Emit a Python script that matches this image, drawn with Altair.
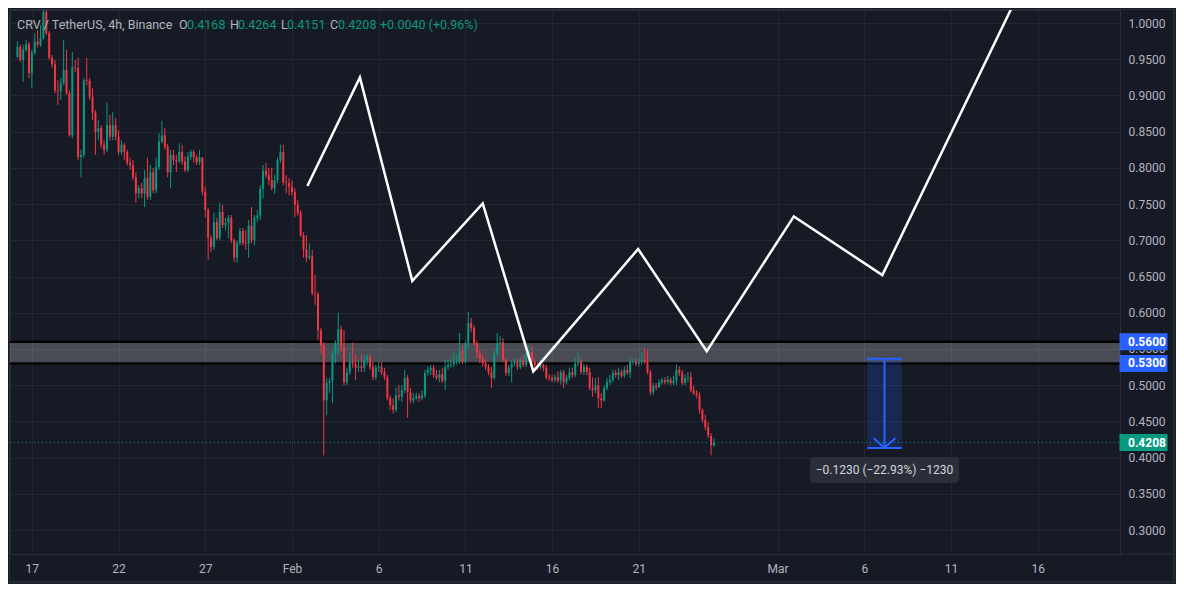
import altair as alt
import pandas as pd

# ---------------- data ----------------
first_open = 0.953
candle_start = "2025-01-16 04:00"   # 4h candles

closes = [
    0.967, 0.949, 0.963, 0.971, 0.931, 0.959, 0.974, 0.970, 0.979, 1.015,
    0.986, 0.952, 0.943, 0.907, 0.906, 0.917, 0.935, 0.903, 0.845, 0.939,
    0.938, 0.815, 0.818, 0.921, 0.920, 0.898, 0.876, 0.850, 0.855, 0.832,
    0.825, 0.859, 0.843, 0.859, 0.843, 0.822, 0.832, 0.822, 0.807, 0.804,
    0.787, 0.765, 0.772, 0.765, 0.786, 0.760, 0.794, 0.769, 0.801, 0.836,
    0.845, 0.829, 0.794, 0.818, 0.811, 0.809, 0.822, 0.809, 0.797, 0.815,
    0.822, 0.815, 0.808, 0.814, 0.767, 0.742, 0.703, 0.691, 0.725, 0.703,
    0.739, 0.721, 0.724, 0.731, 0.700, 0.676, 0.696, 0.713, 0.696, 0.695,
    0.720, 0.700, 0.731, 0.734, 0.771, 0.796, 0.790, 0.783, 0.772, 0.783,
    0.811, 0.822, 0.780, 0.779, 0.774, 0.767, 0.749, 0.738, 0.707, 0.687,
    0.676, 0.678, 0.627, 0.626, 0.576, 0.555, 0.479, 0.503, 0.506, 0.544,
    0.558, 0.577, 0.553, 0.504, 0.518, 0.532, 0.530, 0.524, 0.526, 0.524,
    0.535, 0.539, 0.525, 0.511, 0.524, 0.525, 0.518, 0.511, 0.482, 0.472,
    0.466, 0.486, 0.484, 0.493, 0.510, 0.490, 0.479, 0.482, 0.485, 0.482,
    0.486, 0.517, 0.521, 0.524, 0.514, 0.510, 0.515, 0.506, 0.525, 0.528,
    0.529, 0.532, 0.533, 0.548, 0.532, 0.558, 0.586, 0.579, 0.558, 0.544,
    0.537, 0.530, 0.525, 0.518, 0.510, 0.544, 0.558, 0.559, 0.535, 0.517,
    0.524, 0.530, 0.532, 0.525, 0.535, 0.528, 0.544, 0.546, 0.532, 0.528,
    0.525, 0.528, 0.524, 0.511, 0.510, 0.507, 0.511, 0.506, 0.518, 0.504,
    0.510, 0.518, 0.514, 0.530, 0.532, 0.518, 0.525, 0.518, 0.496, 0.493,
    0.500, 0.482, 0.479, 0.496, 0.504, 0.507, 0.517, 0.514, 0.518, 0.513,
    0.521, 0.517, 0.532, 0.533, 0.529, 0.532, 0.535, 0.533, 0.518, 0.490,
    0.499, 0.497, 0.504, 0.507, 0.504, 0.508, 0.503, 0.506, 0.521, 0.517,
    0.503, 0.510, 0.511, 0.493, 0.489, 0.486, 0.466, 0.452, 0.442, 0.430,
    0.4168, 0.4208,
]
highs = [
    0.975, 0.970, 0.970, 0.977, 0.974, 0.963, 0.986, 0.990, 0.997, 1.021,
    1.018, 0.989, 0.956, 0.949, 0.921, 0.924, 0.977, 0.963, 0.907, 0.960,
    0.949, 0.952, 0.825, 0.924, 0.952, 0.924, 0.910, 0.880, 0.866, 0.859,
    0.838, 0.890, 0.873, 0.877, 0.869, 0.852, 0.838, 0.834, 0.825, 0.814,
    0.811, 0.794, 0.776, 0.779, 0.797, 0.814, 0.804, 0.800, 0.814, 0.848,
    0.865, 0.855, 0.833, 0.825, 0.825, 0.818, 0.834, 0.832, 0.816, 0.822,
    0.825, 0.825, 0.818, 0.825, 0.815, 0.774, 0.745, 0.707, 0.738, 0.731,
    0.752, 0.749, 0.731, 0.735, 0.735, 0.703, 0.700, 0.717, 0.717, 0.714,
    0.728, 0.746, 0.735, 0.742, 0.776, 0.804, 0.807, 0.800, 0.800, 0.790,
    0.814, 0.832, 0.832, 0.790, 0.786, 0.783, 0.772, 0.756, 0.742, 0.711,
    0.707, 0.696, 0.687, 0.652, 0.629, 0.579, 0.559, 0.510, 0.510, 0.548,
    0.562, 0.600, 0.582, 0.576, 0.524, 0.544, 0.559, 0.542, 0.535, 0.542,
    0.542, 0.542, 0.543, 0.532, 0.528, 0.532, 0.532, 0.524, 0.514, 0.486,
    0.482, 0.497, 0.500, 0.500, 0.521, 0.514, 0.496, 0.489, 0.490, 0.489,
    0.493, 0.521, 0.526, 0.528, 0.528, 0.521, 0.521, 0.524, 0.535, 0.535,
    0.537, 0.546, 0.542, 0.572, 0.555, 0.562, 0.601, 0.593, 0.583, 0.562,
    0.548, 0.542, 0.535, 0.529, 0.525, 0.548, 0.572, 0.568, 0.565, 0.537,
    0.528, 0.535, 0.537, 0.537, 0.539, 0.542, 0.548, 0.555, 0.555, 0.537,
    0.532, 0.535, 0.530, 0.528, 0.515, 0.514, 0.515, 0.519, 0.521, 0.521,
    0.514, 0.524, 0.524, 0.537, 0.546, 0.537, 0.530, 0.529, 0.524, 0.511,
    0.510, 0.511, 0.489, 0.500, 0.510, 0.514, 0.521, 0.521, 0.524, 0.522,
    0.526, 0.528, 0.537, 0.537, 0.537, 0.537, 0.546, 0.551, 0.548, 0.521,
    0.503, 0.503, 0.508, 0.510, 0.511, 0.513, 0.511, 0.513, 0.529, 0.526,
    0.521, 0.515, 0.518, 0.518, 0.499, 0.493, 0.490, 0.468, 0.459, 0.449,
    0.434, 0.4264,
]
lows = [
    0.952, 0.946, 0.919, 0.960, 0.924, 0.910, 0.956, 0.966, 0.967, 0.977,
    0.983, 0.949, 0.938, 0.903, 0.887, 0.894, 0.914, 0.901, 0.843, 0.841,
    0.932, 0.811, 0.787, 0.814, 0.914, 0.894, 0.866, 0.818, 0.838, 0.827,
    0.818, 0.822, 0.838, 0.838, 0.838, 0.818, 0.818, 0.811, 0.803, 0.797,
    0.783, 0.752, 0.758, 0.758, 0.746, 0.756, 0.756, 0.765, 0.765, 0.797,
    0.834, 0.825, 0.787, 0.772, 0.804, 0.794, 0.807, 0.804, 0.794, 0.794,
    0.811, 0.807, 0.804, 0.804, 0.762, 0.732, 0.673, 0.684, 0.687, 0.700,
    0.700, 0.717, 0.714, 0.703, 0.696, 0.670, 0.669, 0.693, 0.693, 0.687,
    0.676, 0.696, 0.693, 0.725, 0.728, 0.758, 0.786, 0.776, 0.769, 0.764,
    0.779, 0.807, 0.776, 0.765, 0.762, 0.762, 0.732, 0.734, 0.705, 0.676,
    0.670, 0.673, 0.624, 0.611, 0.562, 0.544, 0.403, 0.459, 0.489, 0.475,
    0.530, 0.542, 0.546, 0.500, 0.500, 0.514, 0.524, 0.507, 0.518, 0.518,
    0.518, 0.528, 0.521, 0.507, 0.507, 0.518, 0.514, 0.507, 0.479, 0.466,
    0.461, 0.463, 0.479, 0.477, 0.489, 0.455, 0.475, 0.475, 0.479, 0.477,
    0.479, 0.482, 0.513, 0.514, 0.510, 0.507, 0.504, 0.503, 0.493, 0.521,
    0.524, 0.525, 0.528, 0.529, 0.529, 0.529, 0.551, 0.573, 0.554, 0.537,
    0.530, 0.526, 0.521, 0.514, 0.496, 0.507, 0.540, 0.554, 0.532, 0.513,
    0.513, 0.504, 0.526, 0.521, 0.522, 0.525, 0.525, 0.540, 0.529, 0.524,
    0.521, 0.522, 0.519, 0.508, 0.506, 0.504, 0.504, 0.503, 0.501, 0.496,
    0.501, 0.507, 0.510, 0.511, 0.526, 0.515, 0.514, 0.514, 0.493, 0.484,
    0.489, 0.468, 0.468, 0.477, 0.493, 0.500, 0.504, 0.510, 0.507, 0.510,
    0.510, 0.514, 0.510, 0.528, 0.526, 0.526, 0.528, 0.529, 0.515, 0.486,
    0.486, 0.493, 0.496, 0.501, 0.501, 0.501, 0.500, 0.500, 0.500, 0.513,
    0.500, 0.500, 0.504, 0.490, 0.486, 0.482, 0.461, 0.448, 0.438, 0.427,
    0.403, 0.4151,
]

# white zig-zag drawing (time, price)
zig_times = ["2025-02-01 21:20", "2025-02-04 22:00", "2025-02-07 22:30",
             "2025-02-12 00:00", "2025-02-14 22:00", "2025-02-20 23:00",
             "2025-02-24 22:00", "2025-03-01 22:30", "2025-03-07 01:00",
             "2025-03-14 12:00"]
zig_prices = [0.775, 0.925, 0.644, 0.751, 0.519, 0.688, 0.547, 0.733, 0.652, 1.021]

# grey zone
band_prices = [0.53, 0.56]
last_price = 0.4208

# measure tool
measure_times = ["2025-03-06 04:00", "2025-03-07 04:00", "2025-03-08 04:00"]
measure_prices = [0.5364, 0.4134]
measure_label = "\u22120.1230 (\u221222.93%) \u22121230"

# axes
x_ticks = ["2025-01-17", "2025-01-22", "2025-01-27", "2025-02-01", "2025-02-06",
           "2025-02-11", "2025-02-16", "2025-02-21", "2025-03-01", "2025-03-06",
           "2025-03-11", "2025-03-16"]
y_ticks = [0.30, 0.35, 0.40, 0.45, 0.50, 0.55, 0.60, 0.65, 0.70, 0.75, 0.80,
           0.85, 0.90, 0.95, 1.00]
x_domain = ["2025-01-16 00:41", "2025-03-20 11:00"]
y_domain = [0.2669, 1.018]

# ---------------- styles ----------------
UP, DOWN = "#089981", "#f23645"
BG, OUTER, GRID, FRAME = "#161a25", "#1e222d", "#232632", "#2a2e39"
TXT, BLUE = "#b2b5be", "#2962ff"
FONT = "Roboto"
W, H = 1110, 544


def ms(s):
    ts = pd.Timestamp(s)
    ts = ts.tz_localize("UTC") if ts.tzinfo is None else ts.tz_convert("UTC")
    return int(ts.value // 10**6)


n = len(closes)
times = pd.date_range(candle_start, periods=n, freq="4h", tz="UTC")
opens = [first_open] + closes[:-1]
cdf = pd.DataFrame({
    "t": [int(t.value // 10**6) for t in times],
    "open": opens,
    "close": closes,
    "high": [max(h, o, c) for h, o, c in zip(highs, opens, closes)],
    "low": [min(l, o, c) for l, o, c in zip(lows, opens, closes)],
})

XS = alt.Scale(type="utc", domain=[ms(x_domain[0]), ms(x_domain[1])])
YS = alt.Scale(domain=y_domain, nice=False, zero=False)

x_axis = alt.Axis(values=[ms(v) for v in x_ticks],
                  labelExpr="utcdate(datum.value) == 1 ? utcFormat(datum.value, '%b') : utcFormat(datum.value, '%-d')",
                  title=None, grid=True, gridColor=GRID, domain=False, ticks=False, tickSize=0,
                  labelColor=TXT, labelFont=FONT, labelFontSize=12, labelPadding=14,
                  labelBaseline="middle", labelFlush=False, labelOverlap=False)
y_axis = alt.Axis(orient="right", values=y_ticks, format=".4f", title=None, grid=True,
                  gridColor=GRID, domain=False, ticks=False, tickSize=0, labelAlign="left",
                  labelBaseline="middle", labelPadding=8, labelColor=TXT, labelFont=FONT,
                  labelFontSize=12, labelFlush=False, labelOverlap=False)


def X(f):
    return alt.X(f, type="temporal", scale=XS, axis=x_axis)


def Y(f):
    return alt.Y(f, type="quantitative", scale=YS, axis=y_axis)


dummy = pd.DataFrame({"k": [0]})
updown = alt.condition(alt.datum.close >= alt.datum.open, alt.value(UP), alt.value(DOWN))

# decorations: frame lines around plot, price scale and time scale
frame = alt.Chart(dummy).mark_rect(fillOpacity=0, stroke=FRAME, strokeWidth=1).encode(
    x=alt.value(-0.5), x2=alt.value(1163.5), y=alt.value(-0.5), y2=alt.value(571.5))
sep = alt.Chart(dummy).mark_rule(color=FRAME, strokeWidth=1).encode(
    x=alt.value(W), x2=alt.value(1163.5), y=alt.value(H))
strip_r = alt.Chart(dummy).mark_rect(color=OUTER).encode(
    x=alt.value(1164), x2=alt.value(1170), y=alt.value(-2), y2=alt.value(580))
strip_b = alt.Chart(dummy).mark_rect(color=OUTER).encode(
    x=alt.value(-2), x2=alt.value(1170), y=alt.value(572), y2=alt.value(580))

# grey zone (translucent)
bdf = pd.DataFrame({"lo": [band_prices[0]], "hi": [band_prices[1]]})
band = alt.Chart(bdf).mark_rect(color="#ffffff", opacity=0.22).encode(
    x=alt.value(0), x2=alt.value(W), y=Y("lo"), y2="hi")
bldf = pd.DataFrame({"p": band_prices})
band_lines = alt.Chart(bldf).mark_rule(color="#000000", strokeWidth=2.5).encode(
    x=alt.value(0), x2=alt.value(W), y=Y("p"))

ldf = pd.DataFrame({"p": [last_price]})
last_line = alt.Chart(ldf).mark_rule(color=UP, strokeWidth=1, strokeDash=[1, 3]).encode(
    x=alt.value(0), x2=alt.value(W), y=Y("p"))

# candles
wicks = alt.Chart(cdf).mark_rule(strokeWidth=1, clip=True).encode(
    x=X("t"), y=Y("low"), y2="high", color=updown)
bodies = alt.Chart(cdf).mark_bar(size=2, clip=True).encode(
    x=X("t"), y=Y("open"), y2="close", color=updown)

# zig-zag
zdf = pd.DataFrame({"t": [ms(t) for t in zig_times], "p": zig_prices})
zig = alt.Chart(zdf).mark_line(color="#ffffff", strokeWidth=2.5, clip=True).encode(
    x=X("t"), y=Y("p"))

# measure tool
mdf = pd.DataFrame({"t0": [ms(measure_times[0])], "tc": [ms(measure_times[1])],
                    "t1": [ms(measure_times[2])], "p0": [measure_prices[0]],
                    "p1": [measure_prices[1]]})
m_rect = alt.Chart(mdf).mark_rect(color=BLUE, opacity=0.2).encode(
    x=X("t0"), x2="t1", y=Y("p0"), y2="p1")
m_vert = alt.Chart(mdf).mark_rule(color=BLUE, strokeWidth=2).encode(
    x=X("tc"), y=Y("p0"), y2="p1")
m_cap0 = alt.Chart(mdf).mark_rule(color=BLUE, strokeWidth=2).encode(
    x=X("t0"), x2="t1", y=Y("p0"))
m_cap1 = alt.Chart(mdf).mark_rule(color=BLUE, strokeWidth=2).encode(
    x=X("t0"), x2="t1", y=Y("p1"))
m_arrow = alt.Chart(mdf).mark_point(shape="M-1,-0.9L0,0L1,-0.9", size=484, filled=False,
                                    color=BLUE, strokeWidth=2, opacity=1).encode(
    x=X("tc"), y=Y("p1"))
rr = ("M-0.946,-0.1745L0.946,-0.1745Q1,-0.1745 1,-0.12L1,0.12Q1,0.1745 0.946,0.1745"
      "L-0.946,0.1745Q-1,0.1745 -1,0.12L-1,-0.12Q-1,-0.1745 -0.946,-0.1745Z")
m_box = alt.Chart(mdf).mark_point(shape=rr, size=149 ** 2, filled=True, color="#2a2e39",
                                  opacity=1, yOffset=22).encode(x=X("tc"), y=Y("p1"))
m_text = alt.Chart(mdf).mark_text(text=measure_label, color="#d1d4dc", font=FONT,
                                  fontSize=12, align="center", baseline="middle",
                                  dy=22).encode(x=X("tc"), y=Y("p1"))

# price-scale labels
box_path = "M-1,-0.354L1,-0.354L1,0.354L-1,0.354Z"
pb = pd.DataFrame({"p": band_prices})
band_box = alt.Chart(pb).mark_point(shape=box_path, size=48 ** 2, filled=True, color=BLUE,
                                    opacity=1).encode(x=alt.value(1133.5), y=Y("p"))
band_txt = alt.Chart(pb).mark_text(align="left", baseline="middle", color="#ffffff",
                                   fontWeight="bold", font=FONT, fontSize=12).encode(
    x=alt.value(1118), y=Y("p"), text=alt.Text("p:Q", format=".4f"))
last_box = alt.Chart(ldf).mark_point(shape=box_path, size=48 ** 2, filled=True, color=UP,
                                     opacity=1).encode(x=alt.value(1133.5), y=Y("p"))
last_txt = alt.Chart(ldf).mark_text(align="left", baseline="middle", color="#ffffff",
                                    fontWeight="bold", font=FONT, fontSize=12).encode(
    x=alt.value(1118), y=Y("p"), text=alt.Text("p:Q", format=".4f"))

# legend header
o, h, l, c = opens[-1], highs[-1], lows[-1], closes[-1]
chg = c - opens[-1]
header = [
    (7, "CRV / TetherUS, 4h, Binance", TXT),
    (169, "O", TXT), (177, f"{o:.4f}", UP),
    (220, "H", TXT), (228, f"{h:.4f}", UP),
    (271, "L", TXT), (277, f"{l:.4f}", UP),
    (320, "C", TXT), (328, f"{c:.4f}", UP),
    (370, f"{chg:+.4f} ({chg / o * 100:+.2f}%)", UP),
]
head_layers = [
    alt.Chart(dummy).mark_text(text=s, color=col, font=FONT, fontSize=12.5, align="left",
                               baseline="middle").encode(x=alt.value(xp), y=alt.value(15))
    for xp, s, col in header
]

chart = alt.layer(
    band, band_lines, last_line, wicks, bodies, strip_r, strip_b,
    m_rect, m_vert, m_cap0, m_cap1, m_arrow, zig, m_box, m_text,
    band_box, band_txt, last_box, last_txt, *head_layers, frame, sep,
).properties(
    width=W, height=H,
    padding={"left": 2, "top": 2, "right": 56, "bottom": 30},
    autosize=alt.AutoSizeParams(type="none"),
    background=BG,
).configure_view(fill=BG, stroke=FRAME, strokeWidth=1)

chart.save("out.html", embed_options={"renderer": "svg", "actions": False})
